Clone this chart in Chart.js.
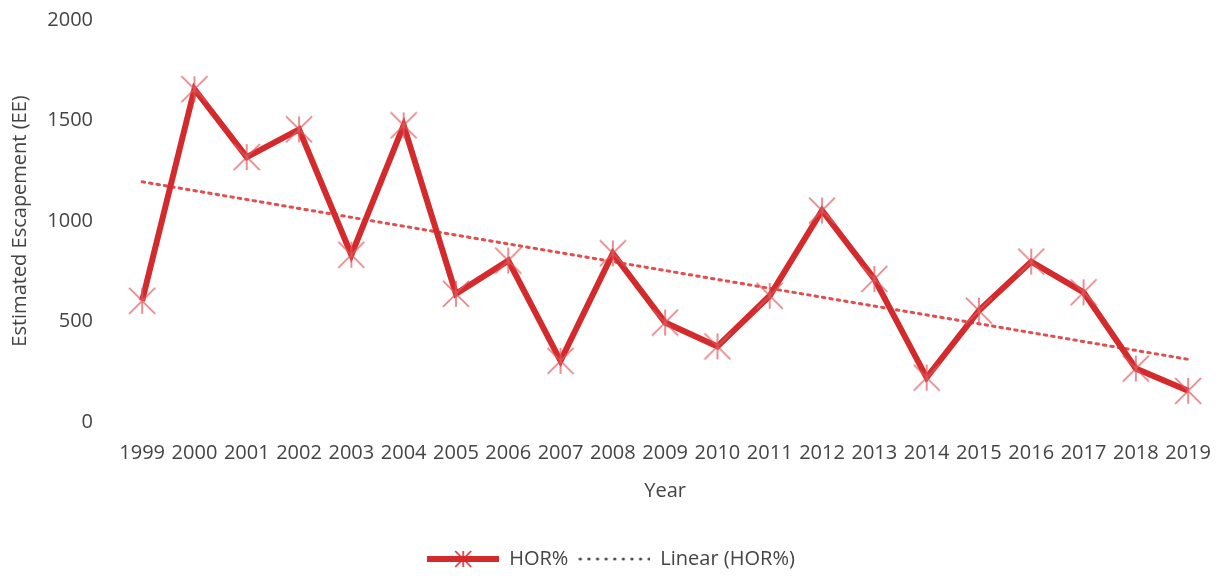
<!DOCTYPE html>
<html>
<head>
<meta charset="utf-8">
<script src="https://cdn.jsdelivr.net/npm/chart.js@4.4.1/dist/chart.umd.min.js"></script>
<style>
    html, body { margin: 0; padding: 0; background: #fff; }
    #wrap { width: 1222px; height: 579px; }
</style>
</head>
<body>
<div id="wrap"><canvas id="chart" width="1222" height="579"></canvas></div>
<script>
// ===== Data =====
const years = ['1999', '2000', '2001', '2002', '2003', '2004', '2005', '2006', '2007', '2008', '2009',
    '2010', '2011', '2012', '2013', '2014', '2015', '2016', '2017', '2018', '2019'];
const horValues = [603, 1656, 1318, 1456, 832, 1476, 638, 803, 304, 839, 495,
    376, 628, 1052, 712, 221, 554, 798, 645, 266, 155];
// Linear trend: value at first and last year
const trendEnds = [1195, 312];
const yTicks = [0, 500, 1000, 1500, 2000];

const RED = '#d42a2c';
const MARK = 'rgba(222, 90, 95, 0.85)';
const TEXT = '#444444';
const FONT = "'Open Sans', 'Noto Sans', sans-serif";

// ===== Excel-like star marker (X with vertical bar) =====
function starMarker(size, color) {
    const c = document.createElement('canvas');
    c.width = size; c.height = size;
    const g = c.getContext('2d');
    const h = size / 2, r = size / 2 - 1;
    g.strokeStyle = color;
    g.lineWidth = 1.6;
    g.beginPath();
    g.moveTo(h - r, h - r); g.lineTo(h + r, h + r);
    g.moveTo(h + r, h - r); g.lineTo(h - r, h + r);
    g.moveTo(h, h - r); g.lineTo(h, h + r);
    g.stroke();
    return c;
}
const marker = starMarker(28, MARK);

// ===== Legend swatches =====
function lineSwatch(dotted) {
    const c = document.createElement('canvas');
    c.width = 72; c.height = 20;
    const g = c.getContext('2d');
    if (dotted) {
        g.fillStyle = '#444';
        for (let x = 2; x < 72; x += 8.6) {
            g.beginPath(); g.arc(x, 10, 1.6, 0, Math.PI * 2); g.fill();
        }
    } else {
        g.strokeStyle = RED;
        g.lineWidth = 6;
        g.beginPath(); g.moveTo(0, 10); g.lineTo(72, 10); g.stroke();
        g.drawImage(starMarker(18, RED), 27, 1);
    }
    return c;
}
const swatches = [lineSwatch(false), lineSwatch(true)];

const trendData = years.map((_, i) => i === 0 ? trendEnds[0] : (i === years.length - 1 ? trendEnds[1] : null));

new Chart(document.getElementById('chart').getContext('2d'), {
    type: 'line',
    data: {
        labels: years,
        datasets: [
            {
                label: 'HOR%',
                data: horValues,
                borderColor: RED,
                backgroundColor: RED,
                borderWidth: 6,
                tension: 0,
                pointStyle: marker,
                pointRadius: 14,
                order: 1,
            },
            {
                label: 'Linear (HOR%)',
                data: trendData,
                spanGaps: true,
                borderColor: 'rgba(220, 60, 60, 0.9)',
                borderWidth: 3,
                borderDash: [2.5, 5],
                borderCapStyle: 'round',
                pointRadius: 0,
                order: 2,
            }
        ]
    },
    options: {
        responsive: false,
        animation: false,
        layout: { autoPadding: false, padding: { top: 0, right: 0, left: 0, bottom: 0 } },
        plugins: {
            tooltip: { enabled: false },
            legend: {
                position: 'bottom',
                labels: {
                    usePointStyle: true,
                    pointStyleWidth: 72,
                    padding: 10,
                    color: TEXT,
                    font: { size: 20, family: FONT },
                    generateLabels: (chart) => chart.data.datasets.map((ds, i) => ({
                        text: ds.label,
                        pointStyle: swatches[i],
                        fontColor: TEXT,
                        lineWidth: 0,
                        strokeStyle: 'transparent',
                        fillStyle: 'transparent',
                        datasetIndex: i,
                    })),
                }
            }
        },
        scales: {
            x: {
                offset: true,
                grid: { display: false },
                border: { display: false },
                ticks: { color: TEXT, padding: 11, maxRotation: 0, autoSkip: false, font: { size: 20, family: FONT } },
                title: { display: true, text: 'Year', color: TEXT, padding: { top: 3, bottom: 36 }, font: { size: 20, family: FONT } },
            },
            y: {
                min: 0,
                max: 2000,
                grid: { display: false },
                border: { display: false },
                afterBuildTicks: (axis) => { axis.ticks = yTicks.map(v => ({ value: v })); },
                afterFit: (axis) => { axis.width = 116; axis.paddingTop = 20; },
                ticks: { color: TEXT, padding: 15, font: { size: 20, family: FONT }, callback: (v) => String(v) },
                title: { display: true, text: 'Estimated Escapement (EE)', color: TEXT, padding: { top: 8, bottom: 0 }, font: { size: 20, family: FONT } },
            }
        }
    }
});
</script>
</body>
</html>
